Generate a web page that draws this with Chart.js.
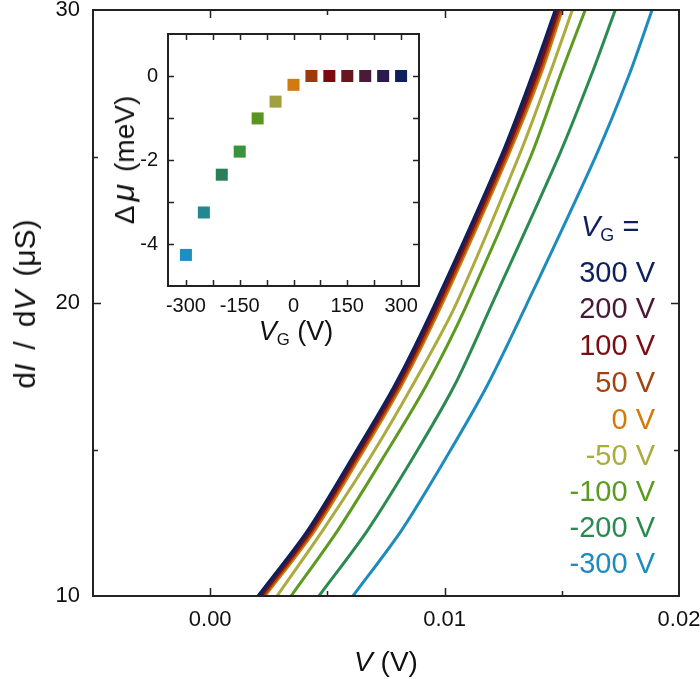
<!DOCTYPE html>
<html>
<head>
<meta charset="utf-8">
<script src="https://cdn.jsdelivr.net/npm/chart.js@4.4.1/dist/chart.umd.min.js"></script>
<style>
  body { margin: 0; background: #fff; }
  #wrap { position: relative; width: 700px; height: 679px; font-family: "Liberation Sans", Arial, sans-serif; color: #111; }
  canvas { position: absolute; }
  .lbl { position: absolute; white-space: nowrap; line-height: 1; }
  .leg { position: absolute; right: 45px; font-size: 29px; text-align: right; white-space: nowrap; line-height: 1; transform: translateY(-50%); }
  sub { font-size: 0.62em; vertical-align: -0.3em; }
  .gap { display: inline-block; }
</style>
</head>
<body>
<div id="wrap">
  <canvas id="mainChart" width="700" height="679" style="left:0;top:0"></canvas>
  <canvas id="insetChart" width="330" height="340" style="left:100px;top:20px"></canvas>

  <div class="lbl" style="left:25px;top:304px;font-size:30px;transform:translate(-50%,-50%) rotate(-90deg)">d<i>I</i><span class="gap" style="width:14px"></span>/<span class="gap" style="width:14px"></span>d<i>V</i><span class="gap" style="width:14px"></span>(μS)</div>
  <div class="lbl" style="left:386px;top:662px;font-size:28px;transform:translate(-50%,-50%)"><i>V</i> (V)</div>
  <div class="lbl" style="left:123px;top:160px;font-size:28px;transform:translate(-50%,-50%) rotate(-90deg)">Δ<span class="gap" style="width:4px"></span><i style="font-size:32px">μ</i><span class="gap" style="width:12px"></span>(meV)</div>
  <div class="lbl" style="left:296px;top:333px;font-size:27px;transform:translate(-50%,-50%)"><i>V</i><sub>G</sub> (V)</div>

  <div id="legend"></div>
</div>
<script>
// main panel: dI/dV levels (µS) and the bias V (V) where each curve crosses them
const conductance = [10, 12.25, 14.81, 17.2, 19.93, 25.05, 27.78, 30];
const bias_300 = [0.00204, 0.00417, 0.00613, 0.00788, 0.00957, 0.01243, 0.01374, 0.01472];
const bias_200 = [0.00213, 0.00421, 0.00617, 0.00793, 0.00962, 0.01247, 0.01383, 0.01477];
const bias_100 = [0.00217, 0.00430, 0.00626, 0.00800, 0.00970, 0.01255, 0.01391, 0.01485];
const bias_50 = [0.00226, 0.00438, 0.00634, 0.00809, 0.00979, 0.01264, 0.01400, 0.01494];
const bias_0 = [0.00234, 0.00447, 0.00643, 0.00817, 0.00987, 0.01272, 0.01409, 0.01502];
const bias_m50 = [0.00285, 0.00481, 0.00689, 0.00864, 0.01047, 0.01319, 0.01447, 0.01545];
const bias_m100 = [0.00345, 0.00545, 0.00745, 0.00923, 0.01094, 0.01370, 0.01494, 0.01600];
const bias_m200 = [0.00464, 0.00672, 0.00872, 0.01043, 0.01200, 0.01489, 0.01626, 0.01728];
const bias_m300 = [0.00609, 0.00817, 0.01013, 0.01183, 0.01349, 0.01647, 0.01787, 0.01885];

const curveLabels = ['300 V', '200 V', '100 V', '50 V', '0 V', '-50 V', '-100 V', '-200 V', '-300 V'];
const curveColors = ['#0e1f5b', '#4a1837', '#7b0c12', '#a4420f', '#d27a0a', '#abab3e', '#5c9a20', '#2b8a4f', '#1e8bbd'];
const curveBias = [bias_300, bias_200, bias_100, bias_50, bias_0, bias_m50, bias_m100, bias_m200, bias_m300];

const mainXTicks = [0, 0.005, 0.01, 0.015, 0.02];
const mainXLabels = ['0.00', '', '0.01', '', '0.02'];
const mainYTicks = [10, 15, 20, 25, 30];
const mainYLabels = ['10', '', '20', '', '30'];

// inset: chemical potential shift vs gate voltage
const gateV = [-300, -250, -200, -150, -100, -50, 0, 50, 100, 150, 200, 250, 300];
const deltaMu = [-4.26, -3.25, -2.35, -1.80, -1.01, -0.61, -0.21, 0, 0, 0, 0, 0, 0];
const gateColors = ['#1e8fc0', '#23878f', '#2a7f5b', '#3a923a', '#5a951f', '#a0a040', '#d07a10',
                    '#9c3a0c', '#7a0a10', '#6a1420', '#4b1a38', '#2b1a4f', '#0e1f5b'];

const insetXTicks = [-300, -225, -150, -75, 0, 75, 150, 225, 300];
const insetXLabels = ['-300', '', '-150', '', '0', '', '150', '', '300'];
const insetYTicks = [-5, -4, -3, -2, -1, 0, 1];
const insetYLabels = ['', '-4', '', '-2', '', '0', ''];

const fontFamily = '"Liberation Sans", Arial, sans-serif';

// frame with inward ticks on all four sides
const framePlugin = {
    id: 'frame',
    afterDraw(chart, args, opts) {
        const ctx = chart.ctx;
        const { left, right, top, bottom } = chart.chartArea;
        ctx.save();
        ctx.strokeStyle = '#222';
        ctx.lineWidth = opts.width;
        ctx.strokeRect(left, top, right - left, bottom - top);
        ctx.lineWidth = opts.tickWidth;
        ctx.beginPath();
        chart.scales.x.ticks.forEach(t => {
            if (t.value <= chart.scales.x.min || t.value >= chart.scales.x.max) return;
            const px = Math.round(chart.scales.x.getPixelForValue(t.value)) + 0.5;
            const len = t.label ? opts.major : opts.minor;
            ctx.moveTo(px, bottom); ctx.lineTo(px, bottom - len);
            ctx.moveTo(px, top); ctx.lineTo(px, top + len);
        });
        chart.scales.y.ticks.forEach(t => {
            if (t.value <= chart.scales.y.min || t.value >= chart.scales.y.max) return;
            const py = Math.round(chart.scales.y.getPixelForValue(t.value)) + 0.5;
            const len = t.label ? opts.major : opts.minor;
            ctx.moveTo(left, py); ctx.lineTo(left + len, py);
            ctx.moveTo(right, py); ctx.lineTo(right - len, py);
        });
        ctx.stroke();
        ctx.restore();
    }
};

function axis(min, max, values, labels, fontSize, padding, fit) {
    return {
        type: 'linear',
        min: min,
        max: max,
        grid: { display: false, drawTicks: false },
        border: { display: false },
        afterBuildTicks: scale => { scale.ticks = values.map(v => ({ value: v })); },
        afterFit: s => {
            fit(s);
            // don't let edge labels shrink the plot area
            s.paddingLeft = 0; s.paddingRight = 0; s.paddingTop = 0; s.paddingBottom = 0;
        },
        ticks: {
            autoSkip: false,
            maxRotation: 0,
            padding: padding,
            color: '#111',
            font: { family: fontFamily, size: fontSize },
            callback: (value, index) => labels[index]
        }
    };
}

new Chart(document.getElementById('mainChart'), {
    type: 'scatter',
    data: {
        datasets: curveLabels.map((label, i) => ({
            label: label,
            data: conductance.map((g, j) => ({ x: curveBias[i][j], y: g })),
            showLine: true,
            borderColor: curveColors[i],
            borderWidth: 3,
            pointRadius: 0,
            tension: 0.3
        }))
    },
    options: {
        responsive: false,
        animation: false,
        layout: { padding: { left: 0, top: 10, right: 21, bottom: 0 } },
        plugins: {
            legend: { display: false },
            tooltip: { enabled: false },
            frame: { width: 2, tickWidth: 1.5, major: 8, minor: 5 }
        },
        scales: {
            x: axis(-0.005, 0.02, mainXTicks, mainXLabels, 22, 11, s => { s.height = 83; }),
            y: axis(10, 30, mainYTicks, mainYLabels, 22, 13, s => { s.width = 93; })
        }
    },
    plugins: [framePlugin]
});

new Chart(document.getElementById('insetChart'), {
    type: 'scatter',
    data: {
        datasets: [{
            label: 'Δμ',
            data: gateV.map((v, i) => ({ x: v, y: deltaMu[i] })),
            pointStyle: 'rect',
            pointRadius: 8.5,
            pointBackgroundColor: gateColors,
            pointBorderColor: gateColors,
            pointBorderWidth: 0
        }]
    },
    options: {
        responsive: false,
        animation: false,
        layout: { padding: { left: 0, top: 14, right: 11, bottom: 0 } },
        plugins: {
            legend: { display: false },
            tooltip: { enabled: false },
            frame: { width: 2, tickWidth: 1.5, major: 6, minor: 6 }
        },
        scales: {
            x: axis(-350, 350, insetXTicks, insetXLabels, 20, 8, s => { s.height = 74; }),
            y: axis(-5, 1, insetYTicks, insetYLabels, 20, 10, s => { s.width = 68; })
        }
    },
    plugins: [framePlugin]
});

// legend text, coloured like the curves
const legendTop = [272, 308, 345, 382, 419, 455, 491, 527, 563];
const legend = document.getElementById('legend');
const head = document.createElement('div');
head.className = 'lbl';
head.style.cssText = 'left:581px;top:228px;font-size:29px;color:' + curveColors[0] + ';transform:translateY(-50%)';
head.innerHTML = '<i>V</i><sub>G</sub> =';
legend.appendChild(head);
curveLabels.forEach((label, i) => {
    const el = document.createElement('div');
    el.className = 'leg';
    el.style.top = legendTop[i] + 'px';
    el.style.color = curveColors[i];
    el.textContent = label;
    legend.appendChild(el);
});
</script>
</body>
</html>
